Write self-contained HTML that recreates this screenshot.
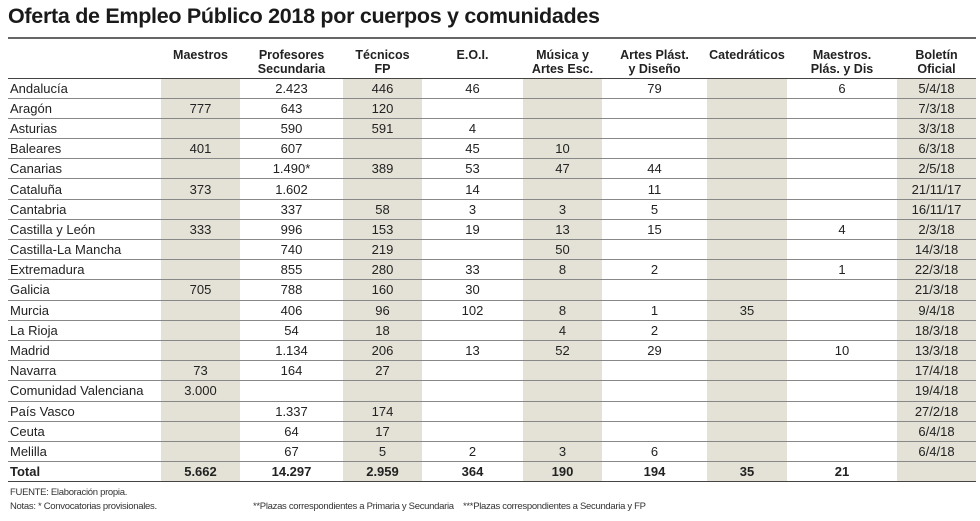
<!DOCTYPE html>
<html><head><meta charset="utf-8"><style>
body{margin:0;width:980px;height:521px;background:#fff;font-family:"Liberation Sans",sans-serif;color:#222;position:relative;overflow:hidden}
#title{position:absolute;left:8px;top:4px;font-size:21.5px;font-weight:bold;letter-spacing:-0.3px;color:#1a1a1a}
table{position:absolute;left:8px;top:37px;border-collapse:collapse;table-layout:fixed;width:968px;border-top:2px solid #666}
td,th{padding:0;text-align:center;font-size:13px;height:19.2px;border-bottom:1px solid #888;white-space:nowrap}
th{font-weight:bold;font-size:12.5px;line-height:14px;height:40px;vertical-align:top;padding-top:9px;box-sizing:border-box;border-bottom:1.5px solid #444}
td.l{text-align:left;padding-left:2px}
.s{background:#e4e2d6}
tr.tot td{font-weight:bold;border-top:1.5px solid #444;border-bottom:1.5px solid #444}
.foot{position:absolute;left:10px;font-size:9.5px;letter-spacing:-0.3px;color:#333;white-space:nowrap}
</style></head><body>
<div id="title">Oferta de Empleo Público 2018 por cuerpos y comunidades</div>
<table>
<colgroup><col style="width:153px"><col style="width:79px"><col style="width:103px"><col style="width:79px"><col style="width:101px"><col style="width:79px"><col style="width:105px"><col style="width:80px"><col style="width:110px"><col style="width:79px"></colgroup>
<thead><tr><th></th><th>Maestros</th><th>Profesores<br>Secundaria</th><th>Técnicos<br>FP</th><th>E.O.I.</th><th>Música y<br>Artes Esc.</th><th>Artes Plást.<br>y Diseño</th><th>Catedráticos</th><th>Maestros.<br>Plás. y Dis</th><th>Boletín<br>Oficial</th></tr></thead>
<tbody id="tb"></tbody></table>
<div class="foot" style="top:487px">FUENTE: Elaboración propia.</div>
<div class="foot" style="top:501px;width:960px;height:14px">Notas: * Convocatorias provisionales.<span style="position:absolute;left:243px">**Plazas correspondientes a Primaria y Secundaria</span><span style="position:absolute;left:453px">***Plazas correspondientes a Secundaria y FP</span></div>
<script>
const regions=["Andalucía","Aragón","Asturias","Baleares","Canarias","Cataluña","Cantabria","Castilla y León","Castilla-La Mancha","Extremadura","Galicia","Murcia","La Rioja","Madrid","Navarra","Comunidad Valenciana","País Vasco","Ceuta","Melilla"];
const maestros=["","777","","401","","373","","333","","","705","","","","73","3.000","","",""];
const profesores=["2.423","643","590","607","1.490*","1.602","337","996","740","855","788","406","54","1.134","164","","1.337","64","67"];
const tecnicos=["446","120","591","","389","","58","153","219","280","160","96","18","206","27","","174","17","5"];
const eoi=["46","","4","45","53","14","3","19","","33","30","102","","13","","","","","2"];
const musica=["","","","10","47","","3","13","50","8","","8","4","52","","","","","3"];
const artes=["79","","","","44","11","5","15","","2","","1","2","29","","","","","6"];
const catedraticos=["","","","","","","","","","","","35","","","","","","",""];
const maestrosPlas=["6","","","","","","","4","","1","","","","10","","","","",""];
const boletin=["5/4/18","7/3/18","3/3/18","6/3/18","2/5/18","21/11/17","16/11/17","2/3/18","14/3/18","22/3/18","21/3/18","9/4/18","18/3/18","13/3/18","17/4/18","19/4/18","27/2/18","6/4/18","6/4/18"];
const totals=["5.662","14.297","2.959","364","190","194","35","21",""];
const cols=[maestros,profesores,tecnicos,eoi,musica,artes,catedraticos,maestrosPlas,boletin];
const shaded=[true,false,true,false,true,false,true,false,true];
const tb=document.getElementById('tb');
function addRow(label,vals,cls){
 const tr=document.createElement('tr');
 
 
 if(cls)tr.className=cls;
 const th=document.createElement('td');th.className='l';th.textContent=label;
 
 
 tr.appendChild(th);
 vals.forEach((v,j)=>{const td=document.createElement('td');td.textContent=v;if(shaded[j])td.className='s';
  
  
  tr.appendChild(td);});
 tb.appendChild(tr);
}
regions.forEach((r,i)=>addRow(r,cols.map(c=>c[i])));
addRow("Total",totals,"tot");
</script>
</body></html>
